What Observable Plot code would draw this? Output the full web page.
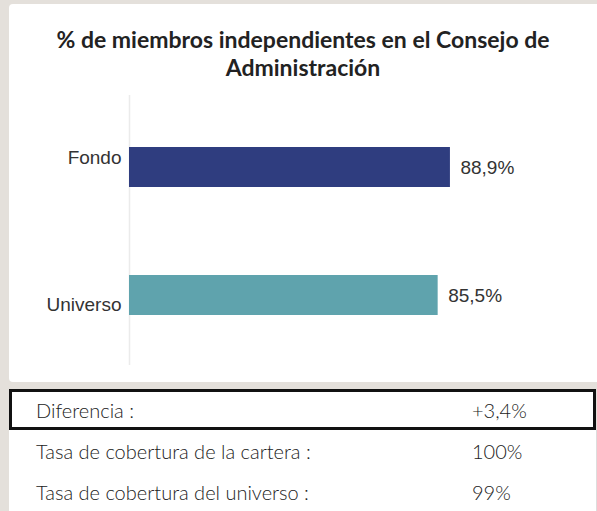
<!DOCTYPE html>
<html>
<head>
<meta charset="utf-8">
<script src="https://cdn.jsdelivr.net/npm/d3@7"></script>
<script src="https://cdn.jsdelivr.net/npm/@observablehq/plot@0.6"></script>
<style>
  html, body { margin: 0; padding: 0; }
  body { width: 597px; height: 511px; background: #e4e0db; position: relative; overflow: hidden; }
  #card { position: absolute; left: 9px; top: 4px; width: 600px; height: 378px; background: #fff; border-radius: 4px; }
  #title { position: absolute; left: 23px; top: 25px; width: 560px; text-align: center;
           font-family: Lato, "Open Sans", sans-serif; font-weight: 700; font-size: 23px; line-height: 28px; color: #222; }
  #chart { position: absolute; left: 0; top: 90px; }
  #table { position: absolute; left: 9px; top: 389px; width: 588px; }
  .row { position: relative; height: 41px; background: #fff; font-family: Lato, "Open Sans", sans-serif; font-weight: 300;
         font-size: 20px; color: #222; box-sizing: border-box; }
  .row.first { border: 3px solid #111; width: 587px; }
  .row + .row { border-right: 1px solid #ddd; }
  .row span { position: absolute; top: 50%; transform: translateY(-50%); white-space: nowrap; }
  .row .lab { left: 27px; }
  .row .val { left: 463px; }
  .row.first .lab { left: 24px; }
  .row.first .val { left: 460px; }
</style>
</head>
<body>
<div id="card"></div>
<div id="title"></div>
<div id="chart"></div>
<div id="table"></div>
<script>
const title = "% de miembros independientes en el Consejo de Administración";
const categories = ["Fondo", "Universo"];
const values = [88.9, 85.5];
const valueLabels = ["88,9%", "85,5%"];
const barColors = ["#2f3d7f", "#5fa3ad"];
const tableLabels = ["Diferencia :", "Tasa de cobertura de la cartera :", "Tasa de cobertura del universo :"];
const tableValues = ["+3,4%", "100%", "99%"];

document.getElementById("title").textContent = title;

const data = categories.map((c, i) => ({cat: c, value: values[i], label: valueLabels[i]}));
const font = "'Liberation Sans', Arial, sans-serif";

const chart = Plot.plot({
  width: 597,
  height: 280,
  marginTop: 5,
  marginBottom: 5,
  marginLeft: 129,
  marginRight: 107,
  x: {domain: [0, 100], axis: null},
  y: {domain: categories, axis: null, range: [56.5, 225], paddingInner: 0.689, paddingOuter: 0},
  color: {domain: categories, range: barColors},
  style: {fontFamily: font, fontSize: "19px", color: "#333", background: "transparent", overflow: "visible"},
  marks: [
    Plot.ruleX([0], {stroke: "#ebebeb", strokeWidth: 1.5}),
    Plot.barX(data, {x: "value", y: "cat", fill: "cat"}),
    Plot.text(data, {filter: d => d.cat === categories[0], x: 0, y: "cat", text: "cat", textAnchor: "end",
      dx: -8, dy: -9.5, fontSize: 19, fontFamily: font, fill: "#333"}),
    Plot.text(data, {filter: d => d.cat === categories[1], x: 0, y: "cat", text: "cat", textAnchor: "end",
      dx: -8, dy: 9, fontSize: 19, fontFamily: font, fill: "#333"}),
    Plot.text(data, {x: "value", y: "cat", text: "label", textAnchor: "start", dx: 10,
      fontSize: 19, fontFamily: font, fill: "#333"})
  ]
});
document.getElementById("chart").appendChild(chart);

const table = document.getElementById("table");
tableLabels.forEach((l, i) => {
  const row = document.createElement("div");
  row.className = "row" + (i === 0 ? " first" : "");
  const a = document.createElement("span"); a.className = "lab"; a.textContent = l;
  const b = document.createElement("span"); b.className = "val"; b.textContent = tableValues[i];
  row.appendChild(a); row.appendChild(b);
  table.appendChild(row);
});
</script>
</body>
</html>
